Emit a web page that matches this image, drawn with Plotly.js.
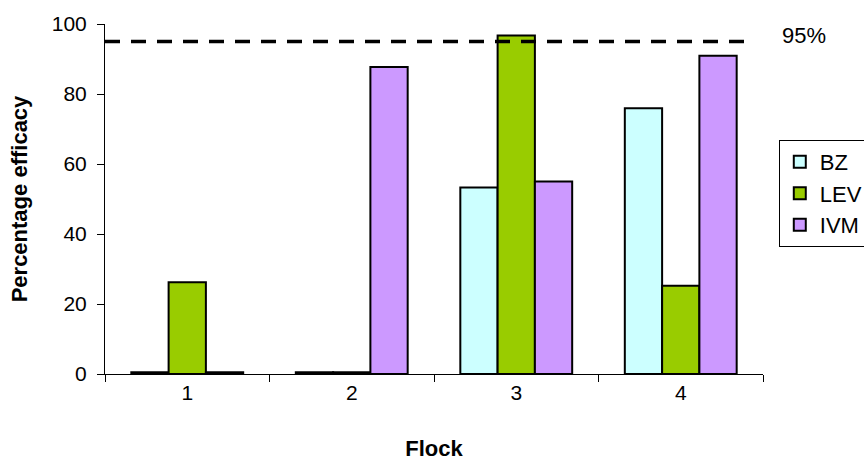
<!DOCTYPE html>
<html>
<head>
<meta charset="utf-8">
<script src="https://cdn.plot.ly/plotly-3.0.1.min.js"></script>
<style>html,body{margin:0;padding:0;background:#fff;}#chart{width:864px;height:461px;}</style>
</head>
<body>
<div id="chart"></div>
<script>
var flocks = ["1", "2", "3", "4"];
var bzValues = [0.5, 0.5, 53.3, 75.9];
var levValues = [26.2, 0.5, 96.7, 25.2];
var ivmValues = [0.5, 87.7, 55.0, 90.9];
var thresholdValue = 95;
var thresholdLabel = "95%";
var yTicks = [0, 20, 40, 60, 80, 100];

var font = "Arial, 'Liberation Sans', sans-serif";
function barTrace(name, vals, color) {
  return {
    type: "bar", name: name, x: flocks, y: vals, legendgroup: name,
    marker: {color: color, line: {color: "#000", width: 2}},
    hoverinfo: "skip"
  };
}
var data = [
  barTrace("BZ", bzValues, "#ccffff"),
  barTrace("LEV", levValues, "#99cc00"),
  barTrace("IVM", ivmValues, "#cc99ff")
];
var layout = {
  width: 864, height: 461,
  margin: {l: 105, r: 101, t: 24, b: 87, autoexpand: false},
  paper_bgcolor: "#fff", plot_bgcolor: "#fff",
  font: {family: font, color: "#000", size: 22},
  barmode: "group", bargap: 0.32, bargroupgap: 0,
  showlegend: true,
  legend: {
    x: 1.024, xanchor: "left", y: 0.669, yanchor: "top",
    bordercolor: "#000", borderwidth: 1, bgcolor: "#fff",
    font: {family: font, size: 22, color: "#000"},
    itemwidth: 30, traceorder: "normal", tracegroupgap: 10
  },
  xaxis: {
    type: "category", showline: true, linecolor: "#000", linewidth: 1,
    ticks: "outside", tickson: "boundaries", ticklen: 7, tickcolor: "#000",
    showgrid: false, zeroline: false,
    tickfont: {family: font, size: 21},
    title: {text: "<b>Flock</b>", font: {family: font, size: 22}, standoff: 40}
  },
  yaxis: {
    range: [0, 100], tickvals: yTicks, ticktext: yTicks.map(String),
    showline: true, linecolor: "#000", linewidth: 1,
    ticks: "outside", ticklen: 7, tickcolor: "#000",
    showgrid: false, zeroline: false, ticklabelstandoff: 6,
    tickfont: {family: font, size: 21},
    title: {text: "<b>Percentage efficacy</b>", font: {family: font, size: 22}, standoff: 18}
  },
  shapes: [{
    type: "line", xref: "paper", x0: 0, x1: 0.985, yref: "y", y0: thresholdValue, y1: thresholdValue,
    line: {color: "#000", width: 3.5, dash: "15px,11px"}
  }],
  annotations: [{
    xref: "paper", x: 1.026, xanchor: "left", yref: "y", y: thresholdValue, yanchor: "middle", yshift: 6,
    text: thresholdLabel, showarrow: false, font: {family: font, size: 22, color: "#000"}
  }]
};
Plotly.newPlot("chart", data, layout, {displayModeBar: false, staticPlot: true});
</script>
</body>
</html>
